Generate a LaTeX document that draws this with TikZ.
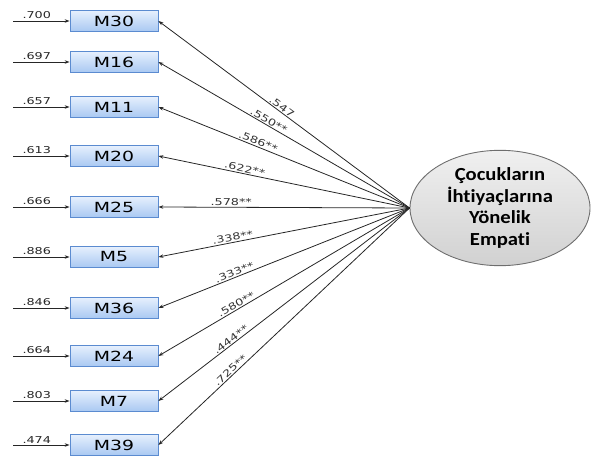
\documentclass[tikz,border=0pt]{standalone}
\usepackage{fontspec}
\usepackage{tikz}
\usetikzlibrary{arrows.meta,shapes.geometric}
\setmainfont{DejaVu Sans}[FakeStretch=1.35]
\newfontfamily\latfont{Carlito}[FakeStretch=1.12, Ligatures=NoCommon]
\definecolor{boxtop}{HTML}{E6F0FD}
\definecolor{boxbot}{HTML}{A9C8F2}
\definecolor{boxline}{HTML}{5B8BD0}
\definecolor{latline}{HTML}{6E6E6E}

\begin{document}
\begin{tikzpicture}[x=1bp,y=-1bp,
    item/.style={draw=boxline, line width=0.8bp, top color=boxtop, bottom color=boxbot,
        minimum width=88bp, minimum height=21bp, inner sep=0pt,
        font=\fontsize{14}{16}\selectfont},
    latent/.style={ellipse, draw=latline, line width=0.9bp, top color=gray!12, bottom color=gray!36,
        minimum width=180bp, minimum height=97bp, inner sep=0pt, align=center,
        font=\latfont\bfseries\fontsize{18.5}{22}\selectfont},
    load/.style={-{Stealth[length=5bp,width=3.5bp]}, line width=0.8bp, black!85},
    err/.style={-{Stealth[length=5bp,width=3.5bp]}, line width=0.8bp, black!85},
    coef/.style={sloped, above, inner sep=1bp, font=\fontsize{9.5}{11}\selectfont, black!80},
    errlbl/.style={above, inner sep=1.5bp, font=\fontsize{9.5}{11}\selectfont, black!85}]
    \useasboundingbox (0,0) rectangle (591,463);
    % indicator boxes
    \node[item] (m30) at (114,21) {M30};
    \node[item] (m16) at (114,62) {M16};
    \node[item] (m11) at (114,107) {M11};
    \node[item] (m20) at (114,156) {M20};
    \node[item] (m25) at (114,207) {M25};
    \node[item] (m5) at (114,257) {M5};
    \node[item] (m36) at (114,308) {M36};
    \node[item] (m24) at (114,356) {M24};
    \node[item] (m7) at (114,401) {M7};
    \node[item] (m39) at (114,445) {M39};
    % latent factor
    \node[latent] (emp) at (500,208) {Çocukların\\İhtiyaçlarına\\Yönelik\\Empati};
    % error terms
    \coordinate (e30) at (13,21);
    \coordinate (e16) at (13,62);
    \coordinate (e11) at (13,107);
    \coordinate (e20) at (13,156);
    \coordinate (e25) at (13,207);
    \coordinate (e5) at (13,257);
    \coordinate (e36) at (13,308);
    \coordinate (e24) at (13,356);
    \coordinate (e7) at (13,401);
    \coordinate (e39) at (13,445);
    \draw[err] (e30) -- node[errlbl, pos=0.42] {.700} (m30.west);
    \draw[err] (e16) -- node[errlbl, pos=0.42] {.697} (m16.west);
    \draw[err] (e11) -- node[errlbl, pos=0.42] {.657} (m11.west);
    \draw[err] (e20) -- node[errlbl, pos=0.42] {.613} (m20.west);
    \draw[err] (e25) -- node[errlbl, pos=0.42] {.666} (m25.west);
    \draw[err] (e5) -- node[errlbl, pos=0.42] {.886} (m5.west);
    \draw[err] (e36) -- node[errlbl, pos=0.42] {.846} (m36.west);
    \draw[err] (e24) -- node[errlbl, pos=0.42] {.664} (m24.west);
    \draw[err] (e7) -- node[errlbl, pos=0.42] {.803} (m7.west);
    \draw[err] (e39) -- node[errlbl, pos=0.42] {.474} (m39.west);
    % factor loadings
    \draw[load] (emp.west) -- node[coef, pos=0.52] {.547} (m30.east);
    \draw[load] (emp.west) -- node[coef, pos=0.57] {.550**} (m16.east);
    \draw[load] (emp.west) -- node[coef, pos=0.61] {.586**} (m11.east);
    \draw[load] (emp.west) -- node[coef, pos=0.66] {.622**} (m20.east);
    \draw[load] (emp.west) -- node[coef, pos=0.71] {.578**} (m25.east);
    \draw[load] (emp.west) -- node[coef, pos=0.70] {.338**} (m5.east);
    \draw[load] (emp.west) -- node[coef, pos=0.69] {.333**} (m36.east);
    \draw[load] (emp.west) -- node[coef, pos=0.68] {.580**} (m24.east);
    \draw[load] (emp.west) -- node[coef, pos=0.70] {.444**} (m7.east);
    \draw[load] (emp.west) -- node[coef, pos=0.70] {.725**} (m39.east);
\end{tikzpicture}
\end{document}
